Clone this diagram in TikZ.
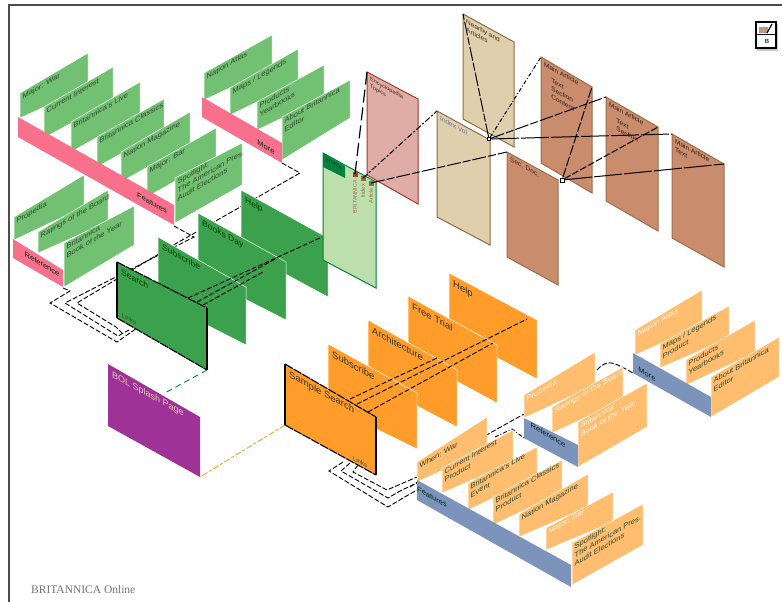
\documentclass[tikz,border=0pt]{standalone}
\usepackage{fontspec}
\setmainfont{Liberation Sans}
\newfontfamily\brfont{Liberation Serif}
\definecolor{cgl}{HTML}{72C072}
\definecolor{cgd}{HTML}{3CA14C}
\definecolor{cgm}{HTML}{BCDFAC}
\definecolor{cgb}{HTML}{00843C}
\definecolor{cpk}{HTML}{F8708C}
\definecolor{cor}{HTML}{FF9C2A}
\definecolor{col}{HTML}{FFBD70}
\definecolor{cbl}{HTML}{7C93BC}
\definecolor{cro}{HTML}{DFACA6}
\definecolor{crb}{HTML}{A83A2E}
\definecolor{ctn}{HTML}{DFCFAC}
\definecolor{ctb}{HTML}{8F6C40}
\definecolor{cbr}{HTML}{C98C6C}
\definecolor{cbb}{HTML}{A06C48}
\definecolor{cpu}{HTML}{9E3296}
\definecolor{ctxt}{HTML}{2F4A2F}
\tikzset{
  lite/.style={fill=cgl,draw=white,line width=.5pt},
  mid/.style={fill=cgd,draw=white,line width=.5pt},
  orng/.style={fill=cor,draw=white,line width=.5pt},
  lorng/.style={fill=col,draw=white,line width=.5pt},
  pinkband/.style={fill=cpk},
  blueband/.style={fill=cbl},
  mainpg/.style={fill=cgm,draw=cgb,line width=1pt},
  rosepg/.style={fill=cro,draw=crb,line width=1pt},
  tanpg/.style={fill=ctn,draw=ctb,line width=1pt},
  brownpg/.style={fill=cbr,draw=cbb,line width=1pt},
  up/.style={yslant=.58,anchor=north west,align=left,inner sep=2.5pt,font=\fontsize{7.5}{8.5}\selectfont,text=ctxt},
  upw/.style={up,text=white!90!col},
  dn/.style={yslant=-.55,anchor=north west,align=left,inner sep=3pt,font=\fontsize{7}{8}\selectfont,text=ctxt},
  big/.style={dn,inner sep=4pt,font=\fontsize{9.5}{11}\selectfont,text=black!80},
  bigg/.style={dn,inner sep=4pt,font=\fontsize{8.5}{10}\selectfont,text=black!75!green},
  band/.style={yslant=-.57,font=\fontsize{7.5}{9}\selectfont,text=black!70!cgb,inner sep=0pt},
  tiny/.style={yslant=-.55,font=\fontsize{6}{7}\selectfont,text=black!75,inner sep=0pt},
  vert/.style={rotate=90,anchor=east,font=\fontsize{5.5}{6}\selectfont,inner sep=0pt},
  link/.style={black,line width=.9pt,dash pattern=on 5pt off 2pt},
  solidlink/.style={black,line width=1pt,dash pattern=on 28pt off 2pt},
  lnk/.style={black,line width=1pt,dash pattern=on 14pt off 2pt on 8pt off 2pt},
  dotlink/.style={black,line width=.9pt,dash pattern=on 4pt off 2pt on 1pt off 2pt},
  edge/.style={black,line width=1.1pt,dash pattern=on 9pt off 1pt},
  hub/.style={draw=black,line width=.7pt,fill=white,inner sep=0pt}
}
% name, four corners, style, label style, text
\newcommand{\pnl}[8]{%
  \coordinate (#1tl) at (#2); \coordinate (#1tr) at (#3);
  \coordinate (#1br) at (#4); \coordinate (#1bl) at (#5);
  \path[#6] (#1tl)--(#1tr)--(#1br)--(#1bl)--cycle;
  \node[#7] (#1) at (#1tl) {#8};}
\newcommand{\bnd}[5]{%
  \coordinate (#1tl) at (#2); \coordinate (#1tr) at (#3);
  \coordinate (#1br) at (#4); \coordinate (#1bl) at (#5);}
\begin{document}
\begin{tikzpicture}[x=1pt,y=-1pt]
\useasboundingbox (0,0) rectangle (782,602);
\fill[white] (0,0) rectangle (782,602);
\draw[black!70,line width=2pt] (9,602)--(9,5)--(782,5);

% ---------- connector waypoints (behind panels) ----------
\coordinate (grA) at (63,288); \coordinate (grB) at (174,226); \coordinate (grC) at (282,163);
\coordinate (slA) at (137,328); \coordinate (slB) at (129,330); \coordinate (slC) at (122,333);
\draw[link] (grA)--(70,291)--(50,303)--(117,342)--(slA);
\draw[link] (grB)--(194,237)--(65,303)--(118,336)--(slB);
\draw[link] (grC)--(300,173)--(177,243)--(77,303)--(116,327)--(slC);
\coordinate (ogA) at (417,490); \coordinate (ogB) at (417,483); \coordinate (ogC) at (417,477);
\coordinate (ssA) at (343,462); \coordinate (ssB) at (350,463); \coordinate (ssC) at (358,465);
\draw[link] (ssA)--(329,471)--(388,507)--(403,498)--(ogA);
\draw[link] (ssB)--(341,471)--(388,498)--(402,490)--(ogB);
\draw[link] (ssC)--(353,472)--(387,490)--(ogC);
\coordinate (vrA) at (524,414); \coordinate (vrB) at (524,438);
\draw[link] (410,487)--(490,433)--(vrA);
\draw[dotlink] (495,437)--(512,429)--(vrB);
\coordinate (mrA) at (597,370); \coordinate (mrB) at (633,373);
\draw[link] (mrA) .. controls (606,360) and (612,362) .. (622,367)--(mrB);

% ---------- pink / green features ----------
\pnl{a1}{20,93}{88,53}{88,87}{20,118}{lite}{up}{Major: War}
\pnl{a2}{44,107}{113,67}{113,100}{44,138}{lite}{up}{Current Interest}
\pnl{a3}{71,122}{140,82}{140,113}{71,152}{lite}{up}{Britannica's Live}
\pnl{a4}{97,137}{164,99}{164,130}{97,167}{lite}{up}{Britannica Classics}
\pnl{a5}{121,152}{190,112}{190,143}{121,182}{lite}{up}{Nation Magazine}
\pnl{a6}{147,167}{216,128}{216,158}{147,197}{lite}{up}{Major: Bar}
\pnl{a7}{175,178}{242,143}{242,185}{175,223}{lite}{up}{Spotlight:\\The American Pres.\\Audit Elections}
\bnd{ab}{18,117}{174,205}{174,225}{18,137}
\path[pinkband] (abtl)--(abtr)--(abbr)--(abbl)--cycle;
\node[band] (abl) at (152,203) {Features};

\pnl{b1}{204,73}{272,35}{272,68}{204,100}{lite}{up}{Nation Atlas}
\pnl{b2}{230,88}{298,49}{298,82}{230,115}{lite}{up}{Maps / Legends}
\pnl{b3}{257,102}{324,65}{324,98}{257,130}{lite}{up}{Products\\Yearbooks}
\pnl{b4}{282,117}{350,80}{350,118}{282,160}{lite}{up}{About Britannica\\Editor}
\bnd{bb}{202,97}{282,143}{282,163}{202,117}
\path[pinkband] (bbtl)--(bbtr)--(bbbr)--(bbbl)--cycle;
\node[band] (bbl) at (266,147) {More};

\pnl{c1}{14,217}{84,175}{84,207}{14,240}{lite}{up}{Propedia}
\pnl{c2}{38,232}{108,190}{108,222}{38,253}{lite}{up}{Ratings of the Board}
\pnl{c3}{64,243}{134,206}{134,245}{64,287}{lite}{up}{Britannica\\Book of the Year}
\bnd{cb}{13,239}{63,270}{63,287}{13,258}
\path[pinkband] (cbtl)--(cbtr)--(cbbr)--(cbbl)--cycle;
\node[band] (cbl) at (42,264) {Reference};

% ---------- green main pages ----------
\pnl{g3}{241,190}{328,238}{328,297}{241,250}{mid}{bigg}{Help}
\pnl{g2}{198,213}{286,262}{286,320}{198,275}{mid}{bigg}{Books Day}
\pnl{g1}{158,237}{246,287}{246,345}{158,300}{mid}{bigg}{Subscribe}
\pnl{home}{323,153}{376,182}{376,288}{323,260}{mainpg}{dn,opacity=0}{}
\fill[cgb] (323,153)--(345,166)--(345,178)--(323,167)--cycle;
\node[dn,inner sep=2pt,text=black!80,font=\fontsize{6}{7}\selectfont] (homel) at (324,154) {Home};
\fill[crb] (352.5,172) rectangle +(5,5);
\fill[ctb] (360.5,176) rectangle +(5,5);
\fill[ctb] (368.5,180.5) rectangle +(5,5);
\node[vert,text=crb!80] (hr) at (355,180) {BRITANNICA};
\node[vert,text=ctb] (hi) at (363,184) {Index};
\node[vert,text=cbb] (ha) at (371,188) {Article};

\coordinate (tA) at (322,237); \coordinate (tB) at (277,258); \coordinate (tC) at (263,272);
\coordinate (sA) at (188,298); \coordinate (sB) at (197,302); \coordinate (sC) at (203,305);
\draw[link] (sA)--(tA);
\draw[link] (sB)--(tB);
\draw[link] (sC)--(tC);

\pnl{srch}{117,262}{207,308}{207,370}{117,318}{fill=cgd}{bigg}{Search}
\draw[edge] (srchtl)--(srchtr);
\draw[black,line width=1.1pt] (srchtr)--(srchbr) (srchtl)--(srchbl);
\draw[edge] (srchbl)--(srchbr);
\node[tiny] (srl) at (129,319) {Links};

% ---------- splash ----------
\pnl{spl}{108,364}{200,417}{200,477}{108,426}{fill=cpu}{dn,inner sep=4pt,font=\fontsize{9}{11}\selectfont,text=ctn}{BOL Splash Page}
\draw[cgb,line width=.9pt,dash pattern=on 6pt off 4pt] (srchbr)--(163,394);
\coordinate (sampbl) at (285,425);
\draw[cor,line width=.9pt,dash pattern=on 6pt off 2pt on 3pt off 2pt] (sampbl)--(splbr);

% ---------- orange main pages ----------
\pnl{o4}{449,273}{537,320}{537,379}{449,332}{orng}{big}{Help}
\pnl{o3}{408,296}{497,345}{497,403}{408,355}{orng}{big}{Free Trial}
\pnl{o2}{368,320}{457,370}{457,427}{368,380}{orng}{big}{Architecture}
\pnl{o1}{328,344}{417,393}{417,449}{328,405}{orng}{big}{Subscribe}
\coordinate (qA) at (437,358); \coordinate (qB) at (527,319); \coordinate (qC) at (493,343);
\coordinate (pA) at (350,399); \coordinate (pB) at (357,404); \coordinate (pC) at (368,412);
\draw[link] (pA)--(qA);
\draw[link] (pB)--(qB);
\draw[link] (pC)--(qC);
\pnl{samp}{285,364}{376,417}{376,475}{285,425}{fill=cor}{big}{Sample Search}
\draw[edge] (samptl)--(samptr);
\draw[black,line width=1.1pt] (samptr)--(sampbr) (samptl)--(sampbl);
\draw[edge] (sampbl)--(sampbr);
\node[tiny] (sal) at (360,462) {Links};

% ---------- orange features ----------
\pnl{f1}{417,462}{487,417}{487,450}{417,482}{lorng}{up}{When: War}
\pnl{f2}{442,468}{513,430}{513,462}{442,493}{lorng}{up}{Current Interest\\Product}
\pnl{f3}{468,483}{537,447}{537,477}{468,510}{lorng}{up}{Britannica's Live\\Event}
\pnl{f4}{493,497}{562,460}{562,492}{493,525}{lorng}{up}{Britannica Classics\\Product}
\pnl{f5}{519,514}{588,474}{588,507}{519,537}{lorng}{up}{Nation Magazine}
\pnl{f6}{546,528}{613,492}{613,522}{546,550}{lorng}{upw}{Major: Bar}
\pnl{f7}{572,543}{643,504}{643,545}{572,585}{lorng}{up}{Spotlight:\\The American Pres.\\Audit Elections}
\bnd{fb}{417,480}{571,565}{571,587}{417,500}
\path[blueband] (fbtl)--(fbtr)--(fbbr)--(fbbl)--cycle;
\node[band] (fbl) at (432,497) {Features};

\pnl{v1}{524,395}{595,352}{595,385}{524,418}{lorng}{upw}{Propedia}
\pnl{v2}{552,407}{623,367}{623,400}{552,433}{lorng}{upw}{Ratings of the Board}
\pnl{v3}{578,422}{647,383}{647,427}{578,467}{lorng}{upw}{Britannica\\Book of the Year}
\bnd{vb}{524,418}{578,445}{578,467}{524,438}
\path[blueband] (vbtl)--(vbtr)--(vbbr)--(vbbl)--cycle;
\node[band] (vbl) at (548,435) {Reference};

\pnl{m1}{635,330}{702,290}{702,325}{635,355}{lorng}{upw}{Nation Atlas}
\pnl{m2}{660,344}{729,306}{729,338}{660,368}{lorng}{up}{Maps / Legends\\Product}
\pnl{m3}{686,360}{755,320}{755,353}{686,385}{lorng}{up}{Products\\Yearbooks}
\pnl{m4}{711,377}{779,337}{779,377}{711,417}{lorng}{up}{About Britannica\\Editor}
\bnd{mb}{633,353}{711,397}{711,417}{633,373}
\path[blueband] (mbtl)--(mbtr)--(mbbr)--(mbbl)--cycle;
\node[band] (mbl) at (647,374) {More};

% ---------- top right pages ----------
\pnl{rose}{367,72}{418,99}{418,204}{367,175}{rosepg}{dn,font=\fontsize{5.5}{7}\selectfont,text=black!60!cbb}{Encyclopedia\\Topics}
\pnl{tan2}{463,14}{514,42}{514,147}{463,119}{tanpg}{dn,font=\fontsize{6.5}{8}\selectfont,text=black!60!cbb}{Nearby and\\Articles}
\pnl{tan1}{437,111}{490,140}{490,245}{437,217}{tanpg}{dn,font=\fontsize{6.5}{8}\selectfont,text=cbl!80!black}{Index Vol.}
\pnl{br1}{541,57}{592,87}{592,193}{541,163}{brownpg}{dn,font=\fontsize{6.5}{8}\selectfont,text=black!70!cbb}{Main Article\\[4pt]\ \ \ \ Text\\\ \ \ \ Section\\\ \ \ \ Content}
\pnl{br2}{606,97}{658,127}{658,231}{606,201}{brownpg}{dn,font=\fontsize{6.5}{8}\selectfont,text=black!70!cbb}{Main Article\\[4pt]\ \ \ \ Text\\\ \ \ \ Section}
\pnl{br3}{672,134}{724,164}{724,267}{672,238}{brownpg}{dn,font=\fontsize{6.5}{8}\selectfont,text=black!70!cbb}{Main Article\\Text}
\pnl{br4}{507,152}{558,180}{558,285}{507,257}{brownpg}{dn,font=\fontsize{6.5}{8}\selectfont,text=black!60!cbb}{Sec. Doc.}

\coordinate (h0) at (355,174); \coordinate (h1) at (363,178); \coordinate (h2) at (371,183);
\draw[black,line width=1.2pt,dash pattern=on 13pt off 5pt] (h0)--(rosetl);
\draw[black,line width=1pt,dash pattern=on 6pt off 2pt on 2pt off 2pt] (h1)--(tan1tl);
\draw[lnk] (h2)--(br4tl);
\node[hub,minimum size=3pt] (hubA) at (489,139) {};
\node[hub,minimum size=4pt] (hubB) at (562,180) {};
\draw[lnk] (hubA)--(tan2tl);
\draw[dotlink,line width=1pt] (hubA)--(br1tl);
\draw[lnk] (hubA)--(br2tl);
\draw[solidlink] (hubA)--(br3tl);
\draw[black,line width=1pt,dash pattern=on 10pt off 2pt] (hubB)--(br1tr);
\draw[black,line width=1pt,dash pattern=on 7pt off 2pt] (hubB)--(br2tr);
\draw[solidlink] (hubB)--(br3tr);

% ---------- icon ----------
\fill[cbl!50] (757,24) rectangle (778,51);
\node[draw=black,line width=1.2pt,fill=white,minimum width=20pt,minimum height=26pt,inner sep=0pt] (icon) at (766,35) {};
\draw[black,line width=1pt] (icon.west)--(icon.east);
\fill[cbb!70] (759,27) rectangle (768,33);
\draw[black,line width=1.2pt] (767,33)--(772,24);
\node[font=\fontsize{6}{6}\selectfont\bfseries,inner sep=0pt,text=black!80] (iconb) at (767,41) {B};

\node[anchor=west,inner sep=0pt,text=black!55,font=\brfont\fontsize{11.5}{13}\selectfont] (brit) at (31,590) {BRITANNICA Online};
\end{tikzpicture}
\end{document}
